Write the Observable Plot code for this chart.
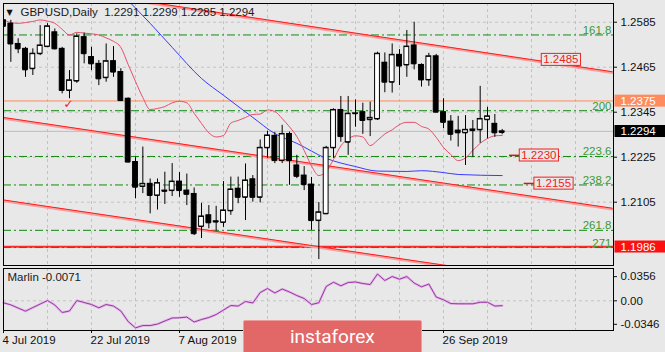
<!DOCTYPE html>
<html><head><meta charset="utf-8">
<script src="https://cdn.jsdelivr.net/npm/d3@7"></script>
<script src="https://cdn.jsdelivr.net/npm/@observablehq/plot@0.6"></script>
<style>
html,body{margin:0;padding:0;background:#e8e8e8;}
#wrap{position:relative;width:665px;height:352px;overflow:hidden;background:#e8e8e8;}
#main{position:absolute;left:0;top:0;}
#ind{position:absolute;left:0;top:268px;}
#logo{position:absolute;left:243px;top:320px;width:179px;height:34px;background:#e26868;border:1px solid #ee9c9c;box-sizing:border-box;border-radius:2px;}
#logo span{position:absolute;left:46px;top:6px;font-family:Roboto,"Open Sans",sans-serif;font-size:19px;line-height:19px;color:#fff;}
</style></head><body>
<div id="wrap"><div id="main"></div><div id="ind"></div><div id="logo"><span>instaforex</span></div></div>
<script>
// ---- data ----
const symbolTitle = "GBPUSD,Daily";
const opens  = [1.2590,1.2581,1.2527,1.2514,1.2461,1.2501,1.2520,1.2558,1.2514,1.2403,1.2428,1.2545,1.2492,1.2474,1.2437,1.2481,1.2452,1.2381,1.2212,1.2147,1.2154,1.2123,1.2136,1.2136,1.2160,1.2136,1.2127,1.2040,1.2070,1.2054,1.2051,1.2082,1.2141,1.2118,1.2166,1.2118,1.2250,1.2282,1.2216,1.2287,1.2203,1.2176,1.2152,1.2056,1.2074,1.2250,1.2351,1.2265,1.2341,1.2345,1.2325,1.2327,1.2477,1.2425,1.2498,1.2471,1.2523,1.2471,1.2431,1.2494,1.2345,1.2320,1.2296,1.2290,1.2296,1.2298,1.2325,1.2314,1.2291];
const highs  = [1.2598,1.2590,1.2541,1.2518,1.2514,1.2576,1.2581,1.2567,1.2518,1.2456,1.2554,1.2556,1.2518,1.2483,1.2527,1.2520,1.2461,1.2383,1.2225,1.2252,1.2167,1.2167,1.2185,1.2208,1.2184,1.2180,1.2143,1.2102,1.2096,1.2094,1.2160,1.2172,1.2172,1.2207,1.2176,1.2271,1.2294,1.2291,1.2310,1.2292,1.2230,1.2200,1.2171,1.2104,1.2254,1.2354,1.2387,1.2387,1.2378,1.2369,1.2372,1.2505,1.2503,1.2527,1.2512,1.2563,1.2585,1.2474,1.2502,1.2499,1.2381,1.2336,1.2334,1.2336,1.2323,1.2414,1.2358,1.2339,1.2299];
const lows   = [1.2563,1.2478,1.2501,1.2438,1.2443,1.2496,1.2518,1.2511,1.2394,1.2381,1.2422,1.2474,1.2456,1.2416,1.2425,1.2438,1.2374,1.2210,1.2114,1.2128,1.2074,1.2084,1.2099,1.2120,1.2118,1.2096,1.2016,1.2008,1.2034,1.2028,1.2038,1.2070,1.2101,1.2056,1.2105,1.2103,1.2222,1.2208,1.2208,1.2150,1.2168,1.2136,1.2030,1.1952,1.2072,1.2222,1.2265,1.2230,1.2305,1.2286,1.2280,1.2323,1.2397,1.2396,1.2416,1.2438,1.2458,1.2412,1.2414,1.2344,1.2301,1.2268,1.2252,1.2203,1.2225,1.2262,1.2274,1.2278,1.2285];
const closes = [1.2574,1.2527,1.2514,1.2458,1.2501,1.2523,1.2574,1.2514,1.2403,1.2430,1.2547,1.2501,1.2474,1.2434,1.2481,1.2452,1.2376,1.2212,1.2145,1.2154,1.2123,1.2156,1.2134,1.2160,1.2136,1.2126,1.2021,1.2067,1.2050,1.2052,1.2083,1.2139,1.2118,1.2163,1.2118,1.2250,1.2283,1.2216,1.2287,1.2216,1.2174,1.2152,1.2056,1.2078,1.2250,1.2351,1.2280,1.2341,1.2342,1.2323,1.2330,1.2501,1.2425,1.2498,1.2468,1.2520,1.2474,1.2431,1.2494,1.2345,1.2318,1.2286,1.2290,1.2298,1.2299,1.2327,1.2334,1.2290,1.2294];
// pink envelope curve, one value per bar
const pinkLine = [1.2592,1.2584,1.2582,1.2584,1.2587,1.2591,1.2588,1.2582,1.2566,1.2551,1.2558,1.2556,1.2554,1.2551,1.2543,1.2534,1.2518,1.2472,1.2427,1.2384,1.2352,1.2355,1.2360,1.2370,1.2374,1.2370,1.2342,1.2315,1.2290,1.2279,1.2283,1.2316,1.2323,1.2331,1.2339,1.2340,1.2351,1.2347,1.2328,1.2306,1.2280,1.2243,1.2202,1.2176,1.2187,1.2219,1.2255,1.2274,1.2282,1.2279,1.2256,1.2270,1.2287,1.2298,1.2312,1.2318,1.2318,1.2307,1.2300,1.2278,1.2251,1.2232,1.2216,1.2223,1.2243,1.2262,1.2275,1.2282,1.2283];
// blue moving average
const blueIdx  = [16,17,20,23,27,30,34,37,40,44,48,51,55,57,60,62,68];
const blueVals = [1.2664,1.2643,1.2582,1.2518,1.2435,1.2390,1.2331,1.2288,1.2262,1.2222,1.2200,1.2188,1.2187,1.2189,1.2184,1.2179,1.2176];
// Marlin oscillator
const marlin = [-0.0029,-0.0059,-0.0106,-0.0153,-0.0099,-0.0047,0.0004,-0.0062,-0.0172,-0.0150,0.0004,-0.0025,-0.0054,-0.0103,-0.0054,-0.0077,-0.0150,-0.0305,-0.0398,-0.0364,-0.0364,-0.0342,-0.0297,-0.0253,-0.0250,-0.0239,-0.0312,-0.0275,-0.0246,-0.0202,-0.0135,-0.0069,-0.0077,-0.0010,-0.0032,0.0122,0.0181,0.0115,0.0174,0.0130,0.0078,0.0034,-0.0054,-0.0029,0.0211,0.0274,0.0221,0.0270,0.0277,0.0255,0.0240,0.0395,0.0299,0.0358,0.0318,0.0358,0.0262,0.0206,0.0247,0.0056,0.0015,-0.0040,-0.0044,-0.0044,-0.0044,-0.0021,-0.0021,-0.0077,-0.0071];
// channel trend lines
const trendIds      = ["upper","middle","lower"];
const trendStartIdx = [17, 0, 0];
const trendStartVal = [1.2647, 1.2331, 1.2111];
const trendEndIdx   = [83, 83, 83];
const trendEndVal   = [1.2453, 1.2089, 1.1871];
// horizontal levels
const resistanceLevel = 1.2375;
const supportLevel = 1.1986;
const fibLabels = ["161.8","200","223.6","238.2","261.8","271"];
const fibPrices = [1.2551,1.2349,1.2227,1.2151,1.2030,1.1984];
const redLabelVals = [1.2485,1.2230,1.2155];
const redLabelIdx  = [76,73,75];
const leadVals = [1.2230,1.2155];
const leadIdx  = [73,75];
const checkIdx = 9;
// axes
const priceTicks = [1.2585,1.2465,1.2345,1.2225,1.2105];
const priceGrid  = [1.2585,1.2465,1.2345,1.2225,1.2105,1.1985];
const gridIdx = [0,6,12,18,24,30,36,42,48,54,60,66,72,78];
const xTickIdx = [0,12,24,36,48,60];
const xLabelIdx = [0,12,24,60];
const xTickLabels = ["4 Jul 2019","22 Jul 2019","7 Aug 2019","26 Sep 2019"];
const marlinTicks = [0.0356,0,-0.0346];
const marlinTickLabels = ["0.0356","0.00","-0.0346"];
const marlinName = "Marlin";

// ---- build ----
const xMax = 83.18;
const bg = "#e8e8e8";
const last = opens.length - 1;
const bars = opens.map((o,i)=>({i, o, h: highs[i], l: lows[i], c: closes[i]}));
const trendPts = trendIds.flatMap((id,k)=>[{id, i: trendStartIdx[k], p: trendStartVal[k]},{id, i: trendEndIdx[k], p: trendEndVal[k]}]);
const header = `${symbolTitle}  ${opens[last].toFixed(4)} ${highs[last].toFixed(4)} ${lows[last].toFixed(4)} ${closes[last].toFixed(4)}`;
const font = "'Liberation Sans', Arial, sans-serif";
const gridStroke = "#c2c2c2";
// unique text fills used to find the label groups afterwards
const F_RED = "#f02121", F_B1 = "#ffffff", F_B2 = "#fefefe", F_B3 = "#fdfdfd";

const main = Plot.plot({
  width: 665, height: 268, marginTop: 3, marginBottom: 3, marginLeft: 3, marginRight: 52,
  style: {background: bg, fontFamily: font, fontSize: "11.5px", color: "#111", overflow: "visible"},
  x: {domain: [0, xMax], axis: null},
  y: {domain: [1.19362, 1.26349], axis: null},
  marks: [
    Plot.ruleY(priceGrid, {stroke: gridStroke, strokeDasharray: "3,3"}),
    Plot.ruleX(gridIdx, {stroke: gridStroke, strokeDasharray: "3,3"}),
    Plot.ruleY([closes[last]], {stroke: "#bcbcbc"}),
    Plot.ruleY([resistanceLevel], {stroke: "#ff8a5a"}),
    Plot.ruleY([supportLevel], {stroke: "#ff2a2a", strokeWidth: 2}),
    Plot.ruleY(fibPrices, {stroke: "#118a11", strokeDasharray: "8,3,2,3"}),
    Plot.text(fibLabels, {x: () => xMax, y: (d,i)=>fibPrices[i], text: d=>d, textAnchor: "end", lineAnchor: "bottom", dx: -2, dy: -1, fill: "#3d9a30"}),
    Plot.line(trendPts, {x: "i", y: "p", z: "id", stroke: "#f7a0a0", strokeWidth: 2.5, dy: 1, clip: true}),
    Plot.line(trendPts, {x: "i", y: "p", z: "id", stroke: "#ff1a1a", strokeWidth: 1, clip: true}),
    Plot.line(blueVals, {x: (d,i)=>blueIdx[i], y: d=>d, stroke: "#3a3aff", strokeWidth: 1, curve: "monotone-x", clip: true}),
    Plot.line(pinkLine, {x: (d,i)=>i, y: d=>d, stroke: "#e4506c", strokeWidth: 1, curve: "monotone-x", clip: true}),
    Plot.ruleX(bars, {x: "i", y1: "l", y2: "h", stroke: "#000", clip: true}),
    Plot.rect(bars, {x1: d=>d.i-0.33, x2: d=>d.i+0.33, y1: "o", y2: "c", fill: d=>d.c>=d.o?"#fff":"#000", stroke: "#000", clip: true}),
    Plot.ruleY(bars, {y: "o", x1: d=>d.i-0.33, x2: d=>d.i+0.33, stroke: "#000", clip: true}),
    Plot.ruleY(bars, {y: "c", x1: d=>d.i-0.33, x2: d=>d.i+0.33, stroke: "#000", clip: true}),
    Plot.text(["✓"], {x: () => checkIdx, y: () => resistanceLevel, text: d=>d, fill: "#ee2020", fontSize: 12, fontWeight: "bold", fontFamily: "DejaVu Sans", lineAnchor: "top", dy: -1, dx: -1}),
    Plot.ruleY(leadVals, {x1: (d,i)=>leadIdx[i]-4, x2: (d,i)=>leadIdx[i]-2.55, stroke: "#d01818", strokeWidth: 1.5}),
    Plot.text(redLabelVals, {x: (d,i)=>redLabelIdx[i], y: d=>d, text: d=>d.toFixed(4), fill: F_RED}),
    Plot.frame({stroke: "#000"}),
    Plot.axisY(priceTicks, {anchor: "right", tickSize: 3, tickPadding: 4, tickFormat: d=>d.toFixed(4), fill: "#111"}),
    Plot.text([resistanceLevel], {x: () => xMax, y: d=>d, text: d=>d.toFixed(4), dx: 7, textAnchor: "start", fill: F_B1}),
    Plot.text([closes[last]], {x: () => xMax, y: d=>d, text: d=>d.toFixed(4), dx: 7, textAnchor: "start", fill: F_B2}),
    Plot.text([supportLevel], {x: () => xMax, y: d=>d, text: d=>d.toFixed(4), dx: 7, textAnchor: "start", fill: F_B3}),
    Plot.text(["▼"], {frameAnchor: "top-left", dx: 3, dy: 6, lineAnchor: "top", fontSize: 8, fontFamily: "DejaVu Sans", fill: "#111"}),
    Plot.text([header], {frameAnchor: "top-left", dx: 17, dy: 4, lineAnchor: "top", textAnchor: "start", fill: "#1a1a1a"})
  ]
});

const ind = Plot.plot({
  width: 665, height: 84, marginTop: 0, marginBottom: 22, marginLeft: 3, marginRight: 52,
  style: {background: bg, fontFamily: font, fontSize: "11.5px", color: "#111", overflow: "visible"},
  x: {domain: [0, xMax], axis: null},
  y: {domain: [-0.0437, 0.0476], axis: null},
  marks: [
    Plot.ruleX(gridIdx, {stroke: gridStroke, strokeDasharray: "3,3"}),
    Plot.ruleY([0], {stroke: gridStroke, strokeDasharray: "3,3"}),
    Plot.line(marlin, {x: (d,i)=>i, y: d=>d, stroke: "#e2b8e6", strokeWidth: 2.5}),
    Plot.line(marlin, {x: (d,i)=>i, y: d=>d, stroke: "#9b35a5", strokeWidth: 1}),
    Plot.frame({stroke: "#000"}),
    Plot.axisY(marlinTicks, {anchor: "right", tickSize: 3, tickPadding: 4, tickFormat: d => marlinTickLabels[marlinTicks.indexOf(d)], fill: "#111"}),
    Plot.axisX(xTickIdx, {anchor: "bottom", tickSize: 3, tickFormat: () => ""}),
    Plot.text(xTickLabels, {x: (d,i)=>xLabelIdx[i], text: d=>d, frameAnchor: "bottom", textAnchor: "start", lineAnchor: "top", dy: 5, dx: -1, fill: "#111"}),
    Plot.text([`${marlinName} ${marlin[last].toFixed(4)}`], {frameAnchor: "top-left", dx: 4, dy: 4, lineAnchor: "top", textAnchor: "start", fill: "#1a1a1a"})
  ]
});

document.getElementById("main").append(main);
document.getElementById("ind").append(ind);

function boxTexts(svg, fillKey, o) {
  const texts = [];
  svg.querySelectorAll("[fill]").forEach(el => {
    if ((el.getAttribute("fill") || "").toLowerCase() !== fillKey) return;
    if (el.tagName.toLowerCase() === "text") texts.push(el);
    else el.querySelectorAll("text").forEach(t => texts.push(t));
  });
  texts.forEach(t => {
    const b = t.getBBox();
    const r = document.createElementNS("http://www.w3.org/2000/svg", "rect");
    r.setAttribute("x", b.x - o.padL);
    r.setAttribute("y", b.y - o.padT);
    r.setAttribute("width", o.width != null ? o.width : b.width + o.padL + o.padR);
    r.setAttribute("height", b.height + o.padT + o.padB);
    r.setAttribute("fill", o.fill);
    if (o.stroke) { r.setAttribute("stroke", o.stroke); r.setAttribute("stroke-width", 1); }
    const tr = t.getAttribute("transform"); if (tr) r.setAttribute("transform", tr);
    t.parentNode.insertBefore(r, t);
  });
}
boxTexts(main, F_RED, {padL: 2, padR: 2, padT: 0, padB: 0, fill: bg, stroke: "#f02020"});
boxTexts(main, F_B1, {padL: 6, padR: 0, padT: 0, padB: 0, width: 60, fill: "#ff8c5e"});
boxTexts(main, F_B2, {padL: 6, padR: 0, padT: 0, padB: 0, width: 60, fill: "#000"});
boxTexts(main, F_B3, {padL: 6, padR: 0, padT: 0, padB: 0, width: 60, fill: "#ff1010"});
</script>
</body></html>
